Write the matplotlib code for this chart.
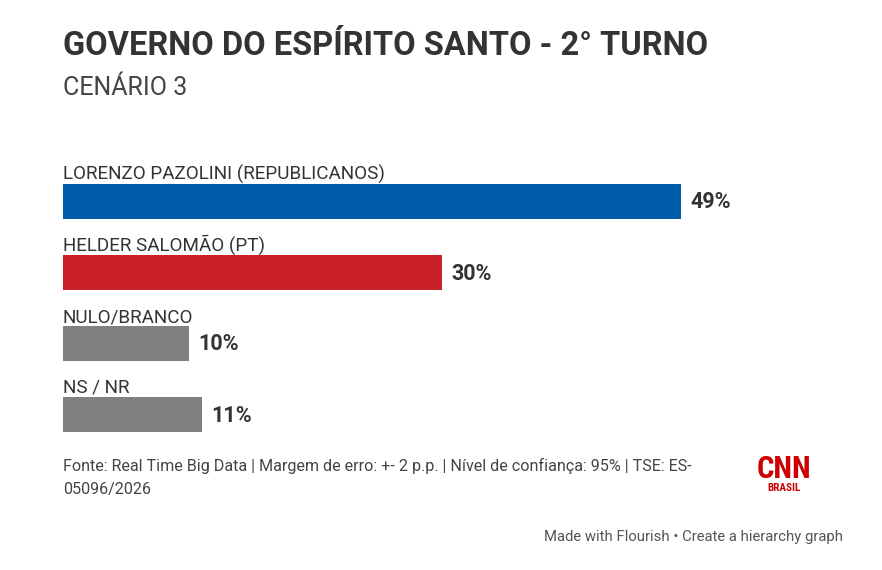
import matplotlib
matplotlib.use("Agg")
import matplotlib.pyplot as plt

categories = ["LORENZO PAZOLINI (REPUBLICANOS)", "HELDER SALOMÃO (PT)", "NULO/BRANCO", "NS / NR"]
values = [49, 30, 10, 11]
value_labels = ["49%", "30%", "10%", "11%"]
colors = ["#005BAA", "#C9202A", "#808080", "#808080"]

title = "GOVERNO DO ESPÍRITO SANTO - 2° TURNO"
subtitle = "CENÁRIO 3"
source_lines = ["Fonte: Real Time Big Data | Margem de erro: +- 2 p.p. | Nível de confiança: 95% | TSE: ES-",
                "05096/2026"]
credit = "Made with Flourish • Create a hierarchy graph"

FONT = ["Roboto", "DejaVu Sans"]
COND = ["Roboto Condensed", "Roboto", "DejaVu Sans"]
plt.rcParams["font.family"] = FONT

W, H = 882, 570
fig = plt.figure(figsize=(W / 100, H / 100), dpi=100)
fig.patch.set_facecolor("white")

ax = fig.add_axes([63 / W, 0, 757 / W, 1])
ax.set_xlim(0, 60)
ax.set_ylim(H, 0)
ax.axis("off")

top0 = 184
step = 71
bh = 35
for i, (cat, v, lab, c) in enumerate(zip(categories, values, value_labels, colors)):
    y = top0 + step * i + bh / 2
    ax.barh(y, v, height=bh, color=c, left=0)
    ax.text(0, top0 + step * i - 4, cat, fontsize=13.6, color="#333333",
            ha="left", va="baseline")
    ax.text(v + 0.75, y + 1, lab, fontsize=15.5, fontweight="bold", color="#333333",
            ha="left", va="center")

def fx(px):
    return px / W

def fy(px):
    return 1 - px / H

fig.text(fx(63), fy(55), title, fontsize=23.5, fontweight="bold", color="#333333",
         ha="left", va="baseline")
fig.text(fx(63), fy(95), subtitle, fontsize=18, color="#444444",
         ha="left", va="baseline")
fig.text(fx(63), fy(471), source_lines[0], fontsize=11.6, color="#444444", ha="left",
         va="baseline")
fig.text(fx(63), fy(494), source_lines[1], fontsize=11.6, color="#444444", ha="left",
         va="baseline")
fig.text(fx(843), fy(541), credit, fontsize=10.7, color="#555555", ha="right",
         va="baseline")
fig.text(fx(784), fy(478), "CNN", fontsize=22, fontweight="bold", color="#CC0000",
         ha="center", va="baseline", family=COND)
fig.text(fx(784), fy(491), "BRASIL", fontsize=8, fontweight="bold", color="#CC0000",
         ha="center", va="baseline", family=COND)

fig.savefig("out.png", dpi=100, facecolor="white")
